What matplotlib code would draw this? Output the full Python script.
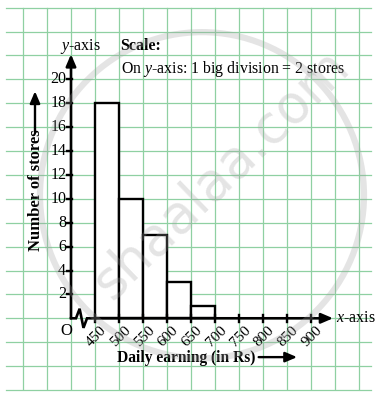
import matplotlib
matplotlib.use("Agg")
import matplotlib.pyplot as plt
from matplotlib.patches import Ellipse

plt.rcParams['font.family'] = ['Liberation Serif', 'DejaVu Serif']
plt.rcParams['mathtext.fontset'] = 'custom'
plt.rcParams['mathtext.rm'] = 'Liberation Serif'
plt.rcParams['mathtext.it'] = 'Liberation Serif:italic'
plt.rcParams['mathtext.bf'] = 'Liberation Serif:bold'

# ---- data ----
bin_edges = [450, 500, 550, 600, 650, 700]
stores = [18, 10, 7, 3, 1]
x_ticks = [450, 500, 550, 600, 650, 700, 750, 800, 850, 900]
y_ticks = [2, 4, 6, 8, 10, 12, 14, 16, 18, 20]

# ---- layout ----
W, H = 379, 395
fig = plt.figure(figsize=(W / 100, H / 100), dpi=100)
ax = fig.add_axes([0, 0, 1, 1])
ax.set_xlim(252.1, 1041.7)
ax.set_ylim(-6.42, 26.64)
ax.axis('off')

grid_c = '#8fd0a2'
# grid
for gx in range(300, 1001, 50):
    ax.plot([gx, gx], [-5.93, 26.0], color=grid_c, lw=0.9, zorder=1)
for gy in range(-6, 27, 2):
    ax.plot([264.6, 1025], [gy, gy], color=grid_c, lw=0.9, zorder=1)

# histogram bars
ax.bar(bin_edges[:-1], stores, width=50, align='edge', facecolor='white',
       edgecolor='black', linewidth=1.7, zorder=3)

# y-axis with arrow
ax.annotate('', xy=(400, 22.1), xytext=(400, 0),
            arrowprops=dict(arrowstyle='-|>,head_length=0.7,head_width=0.3',
                            lw=1.9, color='black', shrinkA=0, shrinkB=0), zorder=4)
# x-axis with break (zigzag) and arrow
zx = [400, 410.4, 418.0, 426.0, 433.4, 450]
zy = [0, 0, 0.8, -0.8, 0, 0]
ax.plot(zx, zy, color='black', lw=1.9, zorder=4, solid_joinstyle='miter')
ax.annotate('', xy=(946, 0), xytext=(450, 0),
            arrowprops=dict(arrowstyle='-|>,head_length=0.7,head_width=0.3',
                            lw=1.9, color='black', shrinkA=0, shrinkB=0), zorder=4)

# ticks
for t in x_ticks:
    ax.plot([t, t], [-0.3, 0.3], color='black', lw=1.7, zorder=4)
    ax.text(t + 3, -1.5, str(t), rotation=45, ha='center', va='center',
            fontsize=11, zorder=5)
for t in y_ticks:
    ax.plot([392, 403], [t, t], color='black', lw=1.7, zorder=4)
    ax.text(390, t, str(t), ha='right', va='center', fontsize=11.5, zorder=5)

ax.text(389.6, -1.1, 'O', ha='center', va='center', fontsize=12, zorder=5)

# labels
ax.text(377, 22.75, '$y$-axis', ha='left', va='center', fontsize=11.5, zorder=5)
ax.text(503.5, 22.75, 'Scale:', ha='left', va='center', fontsize=11.5,
        fontweight='bold', zorder=5)
ax.text(503.5, 20.9, 'On $y$-axis: 1 big division = 2 stores', ha='left',
        va='center', fontsize=11.4, zorder=5)
ax.text(952, 0, '$x$-axis', ha='left', va='center', fontsize=11.5, zorder=5)

ax.text(327, 10.75, 'Number of stores', rotation=90, ha='center', va='center',
        fontsize=12, fontweight='bold', zorder=5)
ax.annotate('', xy=(325, 19.0), xytext=(325, 15.6),
            arrowprops=dict(arrowstyle='-|>,head_length=0.7,head_width=0.3',
                            lw=1.7, color='black', shrinkA=0, shrinkB=0), zorder=5)
ax.text(495, -3.3, 'Daily earning (in Rs)', ha='left', va='center',
        fontsize=11.2, fontweight='bold', zorder=5)
ax.annotate('', xy=(871, -3.25), xytext=(791, -3.25),
            arrowprops=dict(arrowstyle='-|>,head_length=0.7,head_width=0.3',
                            lw=1.7, color='black', shrinkA=0, shrinkB=0), zorder=5)

# watermark
ax.add_patch(Ellipse((672.9, 10.3), 675, 27.3, fill=False, edgecolor='#a0a0a0',
                     lw=4.5, alpha=0.28, zorder=6))
ax.text(712, 12.0, 'shaalaa.com', rotation=44, ha='center', va='center',
        fontsize=38, family='DejaVu Sans', color='#a0a0a0', alpha=0.28, zorder=6)

fig.savefig('out.png', dpi=100)
